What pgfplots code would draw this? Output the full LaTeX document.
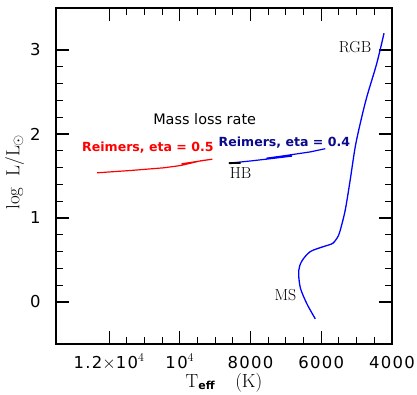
\documentclass[border=0pt]{standalone}
\usepackage{pgfplots}
\pgfplotsset{compat=1.18}
\usepackage{fontspec}
\setsansfont{DejaVu Sans}
\newfontfamily\tickfont[LetterSpace=8]{DejaVu Sans}
\definecolor{navyb}{RGB}{10,10,140}
\begin{document}
\begin{tikzpicture}
\begin{axis}[
  name=ax,
  scale only axis, width=336bp, height=336bp,
  x dir=reverse,
  xmin=4000, xmax=13500, ymin=-0.5, ymax=3.5,
  scaled x ticks=false,
  xtick={4000,6000,8000,10000,12000},
  xticklabels={4000,6000,8000,{10$^4$},{1.2$\times$10$^4$}},
  minor x tick num=3,
  ytick={0,1,2,3}, minor y tick num=4,
  axis line style={line width=1.4pt},
  every tick/.style={black, line width=1.1pt},
  major tick length=13bp, minor tick length=7bp,
  /pgf/number format/assume math mode=true,
  ticklabel style={font=\tickfont\fontsize{16.5}{16.5}\selectfont},
  xticklabel style={anchor=base, yshift=-24bp, inner sep=0pt},
  yticklabel style={xshift=-12bp},
  xlabel={T$_{\textsf{\textbf{\fontsize{11}{11}\selectfont eff}}}$\hspace{20bp}(K)},
  xlabel style={font=\fontsize{19}{19}\selectfont, at={(axis description cs:0.5,0)}, anchor=base, yshift=-43bp, inner sep=0pt},
  ylabel={log\; L/L$_\odot$},
  ylabel style={font=\fontsize{19}{19}\selectfont, yshift=-1bp, xshift=4bp},
  clip=false,
]
\addplot[blue, line width=1.3pt, smooth, tension=0.5] coordinates {
(6169,-0.20) (6403,-0.024) (6592,0.17) (6639,0.37) (6544,0.49) (6310,0.60)
(5935,0.66) (5670,0.70) (5513,0.79) (5465,0.85) (5324,1.09) (5183,1.45)
(5042,1.84) (4901,2.12) (4713,2.44) (4431,2.84) (4225,3.20)};
\addplot[red, line width=1.2pt] coordinates {
(9950,1.645) (9500,1.674) (9079,1.700) (9400,1.682) (9972,1.625)
(10442,1.598) (11380,1.566) (12338,1.538)};
\addplot[blue, line width=1.2pt] coordinates {
(8611,1.653) (8000,1.679) (7437,1.706) (6825,1.737) (7300,1.718)
(7550,1.712) (7100,1.738) (6310,1.787) (5887,1.825)};
\addplot[black, line width=1.8pt] coordinates {(8611,1.653) (8282,1.655)};
\node[font=\sffamily\fontsize{14.5}{15}\selectfont] at (axis cs:9296,2.175) {Mass loss rate};
\node[font=\sffamily\bfseries\fontsize{12.6}{13}\selectfont, text=red] at (axis cs:10902,1.84) {Reimers, eta = 0.5};
\node[font=\sffamily\bfseries\fontsize{12.6}{13}\selectfont, text=navyb] at (axis cs:7042,1.90) {Reimers, eta = 0.4};
\node[font=\fontsize{16}{16}\selectfont] at (axis cs:8282,1.54) {HB};
\node[font=\fontsize{16}{16}\selectfont] at (axis cs:7014,0.084) {MS};
\node[font=\fontsize{16}{16}\selectfont] at (axis cs:5042,3.04) {RGB};
\end{axis}
\pgfresetboundingbox
\path[use as bounding box] (ax.south west) ++(-56bp,-50bp) rectangle ([shift={(25bp,8bp)}]ax.north east);
\end{tikzpicture}
\end{document}
